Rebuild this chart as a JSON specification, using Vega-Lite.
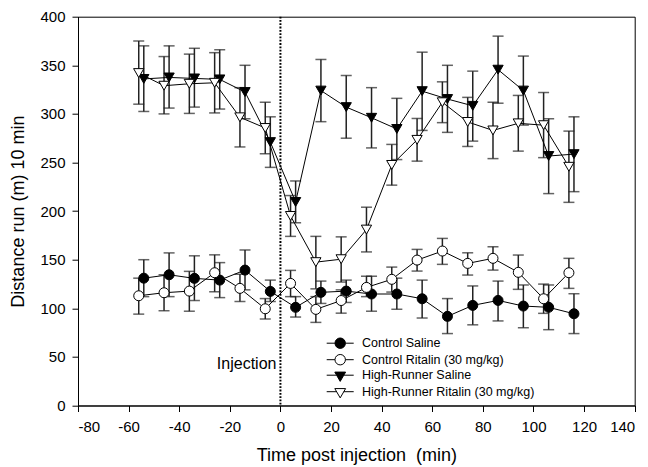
{
  "$schema": "https://vega.github.io/schema/vega-lite/v6.json",
  "autosize": "none",
  "width": 556.7,
  "height": 388.8,
  "padding": {"left": 78, "top": 16.7, "right": 13.3, "bottom": 61.5},
  "background": "white",
  "config": {
    "view": {"stroke": "black", "strokeWidth": 1},
    "font": "Liberation Sans",
    "axis": {
      "grid": false,
      "domainColor": "black",
      "tickColor": "black",
      "labelColor": "black",
      "titleColor": "black",
      "labelFont": "Liberation Sans",
      "titleFont": "Liberation Sans",
      "labelFontSize": 15,
      "titleFontSize": 18,
      "titleFontWeight": "normal",
      "tickSize": 6,
      "domainWidth": 1,
      "tickWidth": 1
    }
  },
  "data": {
    "values": [
      {"series": "Control Saline", "t": -54, "mean": 131, "lo": 112, "hi": 150},
      {"series": "Control Saline", "t": -44, "mean": 134.5, "lo": 112, "hi": 157},
      {"series": "Control Saline", "t": -34, "mean": 130.8, "lo": 108, "hi": 154},
      {"series": "Control Saline", "t": -24, "mean": 129, "lo": 111, "hi": 147},
      {"series": "Control Saline", "t": -14, "mean": 139.3, "lo": 119, "hi": 160},
      {"series": "Control Saline", "t": -4, "mean": 117.4, "lo": 107, "hi": 129},
      {"series": "Control Saline", "t": 6, "mean": 101, "lo": 91, "hi": 112},
      {"series": "Control Saline", "t": 16, "mean": 116.4, "lo": 105, "hi": 128},
      {"series": "Control Saline", "t": 26, "mean": 117.7, "lo": 106, "hi": 129},
      {"series": "Control Saline", "t": 36, "mean": 114.7, "lo": 97, "hi": 133},
      {"series": "Control Saline", "t": 46, "mean": 114.7, "lo": 99, "hi": 131},
      {"series": "Control Saline", "t": 56, "mean": 109.8, "lo": 90, "hi": 129},
      {"series": "Control Saline", "t": 66, "mean": 91.7, "lo": 74, "hi": 110},
      {"series": "Control Saline", "t": 76, "mean": 103, "lo": 83, "hi": 123},
      {"series": "Control Saline", "t": 86, "mean": 108.1, "lo": 87, "hi": 128},
      {"series": "Control Saline", "t": 96, "mean": 102.3, "lo": 80, "hi": 124},
      {"series": "Control Saline", "t": 106, "mean": 101, "lo": 78, "hi": 124},
      {"series": "Control Saline", "t": 116, "mean": 94.4, "lo": 74, "hi": 115},
      {"series": "Control Ritalin (30 mg/kg)", "t": -56, "mean": 112.9, "lo": 94, "hi": 131},
      {"series": "Control Ritalin (30 mg/kg)", "t": -46, "mean": 116, "lo": 97.5, "hi": 134.5},
      {"series": "Control Ritalin (30 mg/kg)", "t": -36, "mean": 117.7, "lo": 97, "hi": 138},
      {"series": "Control Ritalin (30 mg/kg)", "t": -26, "mean": 136.6, "lo": 117, "hi": 155},
      {"series": "Control Ritalin (30 mg/kg)", "t": -16, "mean": 120.5, "lo": 107, "hi": 135},
      {"series": "Control Ritalin (30 mg/kg)", "t": -6, "mean": 99.5, "lo": 89, "hi": 110},
      {"series": "Control Ritalin (30 mg/kg)", "t": 4, "mean": 125.6, "lo": 112, "hi": 139},
      {"series": "Control Ritalin (30 mg/kg)", "t": 14, "mean": 98.9, "lo": 85.5, "hi": 112},
      {"series": "Control Ritalin (30 mg/kg)", "t": 24, "mean": 108, "lo": 95, "hi": 119},
      {"series": "Control Ritalin (30 mg/kg)", "t": 34, "mean": 121.5, "lo": 112, "hi": 133},
      {"series": "Control Ritalin (30 mg/kg)", "t": 44, "mean": 129.8, "lo": 116.7, "hi": 142.4},
      {"series": "Control Ritalin (30 mg/kg)", "t": 54, "mean": 149.6, "lo": 138.3, "hi": 160.6},
      {"series": "Control Ritalin (30 mg/kg)", "t": 64, "mean": 158.9, "lo": 145.2, "hi": 171.9},
      {"series": "Control Ritalin (30 mg/kg)", "t": 74, "mean": 146.2, "lo": 134.2, "hi": 157.1},
      {"series": "Control Ritalin (30 mg/kg)", "t": 84, "mean": 151.4, "lo": 139.3, "hi": 163.3},
      {"series": "Control Ritalin (30 mg/kg)", "t": 94, "mean": 137, "lo": 119.5, "hi": 154.8},
      {"series": "Control Ritalin (30 mg/kg)", "t": 104, "mean": 109.8, "lo": 94.8, "hi": 124.9},
      {"series": "Control Ritalin (30 mg/kg)", "t": 114, "mean": 136.6, "lo": 120.5, "hi": 151.4},
      {"series": "High-Runner Saline", "t": -54, "mean": 336, "lo": 302.5, "hi": 370},
      {"series": "High-Runner Saline", "t": -44, "mean": 337.5, "lo": 306, "hi": 370},
      {"series": "High-Runner Saline", "t": -34, "mean": 336.5, "lo": 307, "hi": 367.5},
      {"series": "High-Runner Saline", "t": -24, "mean": 335.5, "lo": 305, "hi": 366},
      {"series": "High-Runner Saline", "t": -14, "mean": 322.5, "lo": 295, "hi": 350},
      {"series": "High-Runner Saline", "t": -4, "mean": 271, "lo": 245, "hi": 297},
      {"series": "High-Runner Saline", "t": 6, "mean": 209.4, "lo": 188, "hi": 231},
      {"series": "High-Runner Saline", "t": 16, "mean": 324, "lo": 292, "hi": 356},
      {"series": "High-Runner Saline", "t": 26, "mean": 307, "lo": 275, "hi": 339.5},
      {"series": "High-Runner Saline", "t": 36, "mean": 296, "lo": 265, "hi": 327},
      {"series": "High-Runner Saline", "t": 46, "mean": 284.5, "lo": 253, "hi": 316},
      {"series": "High-Runner Saline", "t": 56, "mean": 323.4, "lo": 283, "hi": 363.5},
      {"series": "High-Runner Saline", "t": 66, "mean": 315.3, "lo": 281, "hi": 350},
      {"series": "High-Runner Saline", "t": 76, "mean": 308.3, "lo": 272, "hi": 344},
      {"series": "High-Runner Saline", "t": 86, "mean": 345.5, "lo": 311, "hi": 380},
      {"series": "High-Runner Saline", "t": 96, "mean": 324, "lo": 288.5, "hi": 359.5},
      {"series": "High-Runner Saline", "t": 106, "mean": 256.7, "lo": 218, "hi": 295},
      {"series": "High-Runner Saline", "t": 116, "mean": 258.6, "lo": 220, "hi": 297},
      {"series": "High-Runner Ritalin (30 mg/kg)", "t": -56, "mean": 342, "lo": 310, "hi": 375},
      {"series": "High-Runner Ritalin (30 mg/kg)", "t": -46, "mean": 329, "lo": 300, "hi": 359},
      {"series": "High-Runner Ritalin (30 mg/kg)", "t": -36, "mean": 331, "lo": 300.5, "hi": 361.5},
      {"series": "High-Runner Ritalin (30 mg/kg)", "t": -26, "mean": 332, "lo": 301, "hi": 363},
      {"series": "High-Runner Ritalin (30 mg/kg)", "t": -16, "mean": 296.5, "lo": 266, "hi": 327},
      {"series": "High-Runner Ritalin (30 mg/kg)", "t": -6, "mean": 285.5, "lo": 259, "hi": 312},
      {"series": "High-Runner Ritalin (30 mg/kg)", "t": 4, "mean": 195, "lo": 174, "hi": 216},
      {"series": "High-Runner Ritalin (30 mg/kg)", "t": 14, "mean": 147.5, "lo": 120, "hi": 174},
      {"series": "High-Runner Ritalin (30 mg/kg)", "t": 24, "mean": 150.5, "lo": 127, "hi": 173.5},
      {"series": "High-Runner Ritalin (30 mg/kg)", "t": 34, "mean": 181, "lo": 158, "hi": 204},
      {"series": "High-Runner Ritalin (30 mg/kg)", "t": 44, "mean": 247.5, "lo": 226.7, "hi": 268.6},
      {"series": "High-Runner Ritalin (30 mg/kg)", "t": 54, "mean": 273.3, "lo": 251.4, "hi": 295.3},
      {"series": "High-Runner Ritalin (30 mg/kg)", "t": 64, "mean": 312, "lo": 291, "hi": 333},
      {"series": "High-Runner Ritalin (30 mg/kg)", "t": 74, "mean": 291.7, "lo": 266.5, "hi": 317},
      {"series": "High-Runner Ritalin (30 mg/kg)", "t": 84, "mean": 283, "lo": 254, "hi": 312},
      {"series": "High-Runner Ritalin (30 mg/kg)", "t": 94, "mean": 290.3, "lo": 261.7, "hi": 319},
      {"series": "High-Runner Ritalin (30 mg/kg)", "t": 104, "mean": 288.4, "lo": 255, "hi": 322},
      {"series": "High-Runner Ritalin (30 mg/kg)", "t": 114, "mean": 245.6, "lo": 209, "hi": 282.3}
    ]
  },
  "layer": [
    {
      "data": {"values": [{}]},
      "mark": {"type": "rule", "color": "black", "strokeWidth": 2, "strokeDash": [1.8, 1.5]},
      "encoding": {
        "x": {
          "datum": 0,
          "type": "quantitative",
          "scale": {"domain": [-80, 140], "nice": false, "zero": false},
          "axis": {
            "orient": "bottom",
            "values": [-80, -75, -70, -65, -60, -55, -50, -45, -40, -35, -30, -25, -20, -15, -10, -5, 0, 5, 10, 15, 20, 25, 30, 35, 40, 45, 50, 55, 60, 65, 70, 75, 80, 85, 90, 95, 100, 105, 110, 115, 120, 125, 130, 135, 140],
            "labelExpr": "datum.value % 20 === 0 ? '' + datum.value : ''",
            "tickSize": {"condition": {"test": "datum.value % 20 === 0", "value": 6}, "value": 4},
            "title": "Time post injection \u00a0(min)",
            "labelPadding": 8,
            "titlePadding": 12
          }
        }
      }
    },
    {
      "data": {"values": [{}]},
      "mark": {"type": "text", "text": "Injection", "align": "right", "baseline": "alphabetic", "dx": -4, "font": "Liberation Sans", "fontSize": 16, "color": "black"},
      "encoding": {
        "x": {"datum": 0, "type": "quantitative"},
        "y": {
          "datum": 38,
          "type": "quantitative",
          "title": "Distance run (m) 10 min",
          "scale": {"domain": [0, 400], "nice": false, "zero": false},
          "axis": {
            "orient": "left",
            "values": [0, 50, 100, 150, 200, 250, 300, 350, 400],
            "title": "Distance run (m) 10 min",
            "labelPadding": 7,
            "titlePadding": 12
          }
        }
      }
    },
    {
      "mark": {"type": "errorbar", "color": "#222", "thickness": 1.5, "ticks": {"size": 11, "thickness": 1.5, "color": "#222"}},
      "encoding": {
        "x": {"field": "t", "type": "quantitative", "title": "Time post injection \u00a0(min)"},
        "y": {"field": "lo", "type": "quantitative", "title": "Distance run (m) 10 min"},
        "y2": {"field": "hi"},
        "detail": {"field": "series"}
      }
    },
    {
      "mark": {"type": "line", "color": "black", "strokeWidth": 1},
      "encoding": {
        "x": {"field": "t", "type": "quantitative"},
        "y": {"field": "mean", "type": "quantitative"},
        "detail": {"field": "series"}
      }
    },
    {
      "transform": [{"filter": "false"}],
      "mark": {"type": "point", "filled": true, "stroke": "black", "strokeWidth": 1, "opacity": 1},
      "encoding": {
        "x": {"field": "t", "type": "quantitative"},
        "y": {"field": "mean", "type": "quantitative"},
        "fill": {
          "field": "series",
          "type": "nominal",
          "scale": {
            "domain": ["Control Saline", "Control Ritalin (30 mg/kg)", "High-Runner Saline", "High-Runner Ritalin (30 mg/kg)"],
            "range": ["black", "white", "black", "white"]
          },
          "legend": {
            "title": null,
            "orient": "none",
            "legendX": 255.7,
            "legendY": 320,
            "padding": 0,
            "symbolSize": 144,
            "symbolStrokeWidth": 1,
            "symbolStrokeColor": "black",
            "symbolOpacity": 1,
            "labelFont": "Liberation Sans",
            "labelFontSize": 12.5,
            "labelColor": "black",
            "labelOffset": 15.3,
            "labelLimit": 400,
            "rowPadding": 1.5,
            "encode": {"symbols": {"update": {"stroke": {"value": "black"}, "strokeWidth": {"value": 1}}}}
          }
        },
        "shape": {
          "field": "series",
          "type": "nominal",
          "scale": {
            "domain": ["Control Saline", "Control Ritalin (30 mg/kg)", "High-Runner Saline", "High-Runner Ritalin (30 mg/kg)"],
            "range": [
              "M-2.25,0H-0.87M0.87,0H2.25M-0.87,0A0.87,0.87 0 1,0 0.87,0A0.87,0.87 0 1,0 -0.87,0Z",
              "M-2.25,0H-0.87M0.87,0H2.25M-0.87,0A0.87,0.87 0 1,0 0.87,0A0.87,0.87 0 1,0 -0.87,0Z",
              "M-2.25,0H-0.6M0.6,0H2.25M-0.9,-0.52L0.9,-0.52L0,1.03Z",
              "M-2.25,0H-0.6M0.6,0H2.25M-0.9,-0.52L0.9,-0.52L0,1.03Z"
            ]
          },
          "legend": {
            "title": null,
            "orient": "none",
            "legendX": 255.7,
            "legendY": 320,
            "padding": 0,
            "symbolSize": 144,
            "symbolStrokeWidth": 1,
            "symbolStrokeColor": "black",
            "symbolOpacity": 1,
            "labelFont": "Liberation Sans",
            "labelFontSize": 12.5,
            "labelColor": "black",
            "labelOffset": 15.3,
            "labelLimit": 400,
            "rowPadding": 1.5,
            "encode": {"symbols": {"update": {"stroke": {"value": "black"}, "strokeWidth": {"value": 1}}}}
          }
        }
      }
    },
    {
      "transform": [{"filter": {"field": "series", "oneOf": ["Control Saline", "Control Ritalin (30 mg/kg)"]}}],
      "mark": {"type": "point", "shape": "circle", "filled": true, "stroke": "black", "strokeWidth": 1, "size": 100, "opacity": 1},
      "encoding": {
        "x": {"field": "t", "type": "quantitative"},
        "y": {"field": "mean", "type": "quantitative"},
        "fill": {"field": "series", "type": "nominal"}
      }
    },
    {
      "transform": [{"filter": {"field": "series", "oneOf": ["High-Runner Saline", "High-Runner Ritalin (30 mg/kg)"]}}],
      "mark": {"type": "point", "shape": "triangle-down", "filled": true, "stroke": "black", "strokeWidth": 1, "size": 105, "opacity": 1},
      "encoding": {
        "x": {"field": "t", "type": "quantitative"},
        "y": {"field": "mean", "type": "quantitative"},
        "fill": {"field": "series", "type": "nominal"}
      }
    }
  ]
}
